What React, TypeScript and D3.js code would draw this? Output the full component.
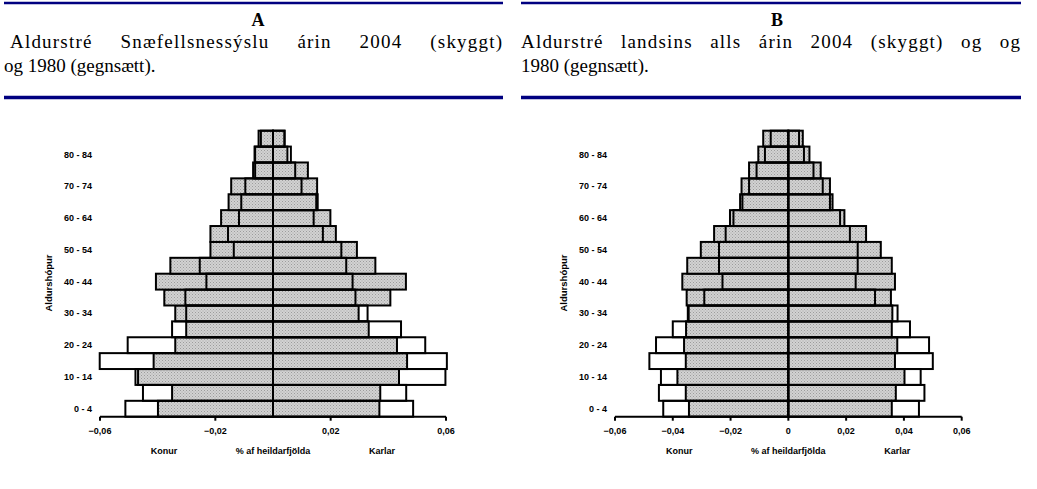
import React, { useEffect, useRef } from "react";
import * as d3 from "d3";

// aldurshópar, neðst til efst
const ages = [
  "0 - 4", "5 - 9", "10 - 14", "15 - 19", "20 - 24", "25 - 29", "30 - 34", "35 - 39", "40 - 44",
  "45 - 49", "50 - 54", "55 - 59", "60 - 64", "65 - 69", "70 - 74", "75 - 79", "80 - 84", "85 +",
];

// A: Snæfellsnessýsla
const snaeKonur2004 = [
  -0.0399, -0.035, -0.0468, -0.0414, -0.0339, -0.0301, -0.0339, -0.0377, -0.0406,
  -0.0356, -0.0217, -0.0217, -0.018, -0.0154, -0.0145, -0.0069, -0.0064, -0.005,
];
const snaeKonur1980 = [
  -0.0512, -0.0451, -0.0477, -0.0601, -0.0504, -0.035, -0.0301, -0.0304, -0.0231,
  -0.0254, -0.0136, -0.0156, -0.0118, -0.011, -0.0096, -0.0062, -0.0062, -0.0042,
];
const snaeKarlar2004 = [
  0.0369, 0.0372, 0.0437, 0.0465, 0.043, 0.0332, 0.0297, 0.0407, 0.0461,
  0.0355, 0.0291, 0.0218, 0.0199, 0.015, 0.0153, 0.0121, 0.005, 0.004,
];
const snaeKarlar1980 = [
  0.0486, 0.0462, 0.0598, 0.0603, 0.0528, 0.0444, 0.0328, 0.0286, 0.0276,
  0.0254, 0.0237, 0.0173, 0.0141, 0.0155, 0.0099, 0.0077, 0.0062, 0.004,
];

// B: landið allt
const landKonur2004 = [
  -0.0344, -0.0355, -0.0384, -0.0355, -0.0361, -0.0354, -0.0345, -0.0352, -0.0367,
  -0.035, -0.0303, -0.0257, -0.0202, -0.0167, -0.0162, -0.0136, -0.0104, -0.0087,
];
const landKonur1980 = [
  -0.0433, -0.0448, -0.0441, -0.0481, -0.0458, -0.04, -0.0348, -0.0291, -0.0228,
  -0.024, -0.024, -0.0217, -0.019, -0.0159, -0.0136, -0.011, -0.0081, -0.0061,
];
const landKarlar2004 = [
  0.0358, 0.0372, 0.0402, 0.0369, 0.0377, 0.0358, 0.036, 0.0355, 0.0369,
  0.0358, 0.032, 0.0269, 0.0194, 0.0153, 0.0144, 0.0112, 0.0073, 0.005,
];
const landKarlar1980 = [
  0.0452, 0.0471, 0.0458, 0.05, 0.0487, 0.0421, 0.0378, 0.03, 0.0233,
  0.024, 0.024, 0.0213, 0.0179, 0.0144, 0.0119, 0.0087, 0.0054, 0.0037,
];

const ticksA = [-0.06, -0.02, 0.02, 0.06];
const ticksB = [-0.06, -0.04, -0.02, 0, 0.02, 0.04, 0.06];

const panels = [
  {
    letter: "A",
    left: 4, right: 503, letterX: 258,
    line1: ["Aldurstré", "Snæfellsnessýslu", "árin", "2004", "(skyggt)"],
    line1Start: 10,
    line2: "og 1980 (gegnsætt).",
    plotLeft: 100, plotRight: 446,
    ticks: ticksA,
    k2004: snaeKonur2004, k1980: snaeKonur1980, m2004: snaeKarlar2004, m1980: snaeKarlar1980,
  },
  {
    letter: "B",
    left: 521, right: 1021, letterX: 777,
    line1: ["Aldurstré", "landsins", "alls", "árin", "2004", "(skyggt)", "og", "og"],
    line1Start: 521,
    line2: "1980 (gegnsætt).",
    plotLeft: 615, plotRight: 961.7,
    ticks: ticksB,
    k2004: landKonur2004, k1980: landKonur1980, m2004: landKarlar2004, m1980: landKarlar1980,
  },
];

const W = 1037;
const H = 489;
const plotTop = 130.7;
const plotBottom = 416.7;
const navy = "#000080";
const serif = "'Liberation Serif', 'Times New Roman', serif";
const sans = "'Liberation Sans', Arial, sans-serif";
const headSize = 19;

const fmt = (v: number) => (v === 0 ? "0" : d3.format(".2f")(v).replace(".", ","));

export default function App() {
  const svgRef = useRef<SVGSVGElement>(null);

  useEffect(() => {
    const svg = d3.select(svgRef.current);
    svg.selectAll("*").remove();

    // punktamynstur fyrir skyggðu súlurnar
    const pat = svg
      .append("defs")
      .append("pattern")
      .attr("id", "dots")
      .attr("width", 3)
      .attr("height", 3)
      .attr("patternUnits", "userSpaceOnUse");
    pat.append("rect").attr("width", 3).attr("height", 3).attr("fill", "#d2d2d2");
    pat.append("rect").attr("x", 0).attr("y", 0).attr("width", 1).attr("height", 1).attr("fill", "#9c9c9c");
    pat.append("rect").attr("x", 1.5).attr("y", 1.5).attr("width", 1).attr("height", 1).attr("fill", "#a8a8a8");

    panels.forEach((p) => {
      const g = svg.append("g");

      // fyrirsögn
      g.append("line").attr("x1", p.left).attr("x2", p.right).attr("y1", 3).attr("y2", 3)
        .attr("stroke", navy).attr("stroke-width", 2.5);
      g.append("line").attr("x1", p.left).attr("x2", p.right).attr("y1", 97.5).attr("y2", 97.5)
        .attr("stroke", navy).attr("stroke-width", 3.5);

      g.append("text").attr("x", p.letterX).attr("y", 26).attr("text-anchor", "middle")
        .attr("font-family", serif).attr("font-size", 18).attr("font-weight", "bold").text(p.letter);

      // jöfnuð lína: mæla orðin, dreifa með smá stafabili og orðabili
      const words = g.selectAll("text.w").data(p.line1).join("text").attr("class", "w")
        .attr("y", 48).attr("font-family", serif).attr("font-size", headSize).text((d) => d);
      const widths: number[] = [];
      words.each(function () {
        widths.push((this as SVGTextElement).getComputedTextLength());
      });
      const span = p.right - 1 - p.line1Start;
      const chars = d3.sum(p.line1, (w) => w.length - 1);
      const wordGap = 12;
      const ls = Math.max(0, Math.min(1.2, (span - d3.sum(widths) - wordGap * (p.line1.length - 1)) / chars));
      const full = p.line1.map((w, i) => widths[i] + ls * (w.length - 1));
      const gap = (span - d3.sum(full)) / (p.line1.length - 1);
      let cx = p.line1Start;
      words.attr("letter-spacing", ls).attr("x", (_d, i) => {
        const x = cx;
        cx += full[i] + gap;
        return x;
      });

      g.append("text").attr("x", p.left).attr("y", 72).attr("font-family", serif)
        .attr("font-size", headSize).text(p.line2);

      // grafið
      const x = d3.scaleLinear().domain([-0.06, 0.06]).range([p.plotLeft, p.plotRight]);
      const y = d3.scaleBand<string>().domain(ages).range([plotBottom, plotTop]).padding(0);

      const drawBars = (vals: number[], fill: string) => {
        g.append("g")
          .selectAll("rect")
          .data(vals)
          .join("rect")
          .attr("x", (d) => Math.min(x(0), x(d)))
          .attr("width", (d) => Math.abs(x(d) - x(0)))
          .attr("y", (_d, i) => y(ages[i])!)
          .attr("height", y.bandwidth())
          .attr("fill", fill)
          .attr("stroke", "#000")
          .attr("stroke-width", 2);
      };
      drawBars(p.k2004, "url(#dots)");
      drawBars(p.m2004, "url(#dots)");
      drawBars(p.k1980, "none");
      drawBars(p.m1980, "none");

      // x-ás
      g.append("line").attr("x1", x(-0.06)).attr("x2", x(0.06)).attr("y1", plotBottom).attr("y2", plotBottom)
        .attr("stroke", "#000").attr("stroke-width", 2);
      g.append("g").selectAll("line").data(p.ticks).join("line")
        .attr("x1", (d) => x(d)).attr("x2", (d) => x(d))
        .attr("y1", plotBottom).attr("y2", plotBottom + 4)
        .attr("stroke", "#000").attr("stroke-width", 2);
      g.append("g").selectAll("text").data(p.ticks).join("text")
        .attr("x", (d) => x(d)).attr("y", 433.5).attr("text-anchor", "middle")
        .attr("font-family", sans).attr("font-size", 9).attr("font-weight", "bold")
        .text((d) => fmt(d));

      // y-merki, annar hver hópur
      g.append("g").selectAll("text").data(ages.filter((_a, i) => i % 2 === 0 && i < 17)).join("text")
        .attr("x", p.plotLeft - 8).attr("y", (d) => y(d)! + y.bandwidth() / 2 + 3)
        .attr("text-anchor", "end")
        .attr("font-family", sans).attr("font-size", 9).attr("font-weight", "bold")
        .text((d) => d);

      g.append("text")
        .attr("transform", `translate(${p.plotLeft - 48},283) rotate(-90)`)
        .attr("text-anchor", "middle")
        .attr("font-family", sans).attr("font-size", 9.5).attr("font-weight", "bold")
        .text("Aldurshópur");

      const mid = x(0);
      [
        { t: "Konur", dx: -109 },
        { t: "% af heildarfjölda", dx: 0 },
        { t: "Karlar", dx: 109 },
      ].forEach((l) => {
        g.append("text").attr("x", mid + l.dx).attr("y", 453.5).attr("text-anchor", "middle")
          .attr("font-family", sans).attr("font-size", 9).attr("font-weight", "bold").text(l.t);
      });
    });
  }, []);

  return (
    <svg
      ref={svgRef}
      width={W}
      height={H}
      style={{ position: "absolute", left: 0, top: 0, background: "#fff" }}
    />
  );
}
